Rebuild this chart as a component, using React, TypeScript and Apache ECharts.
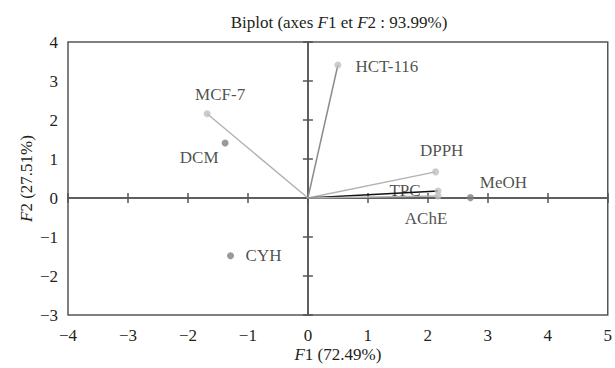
import React, { useEffect, useRef } from "react";
import * as echarts from "echarts";

// ---- Data ----
const xRange = [-4, 5];
const yRange = [-3, 4];

const variableNames = ["HCT-116", "MCF-7", "DPPH", "TPC", "AChE"];
const variableF1 = [0.5, -1.68, 2.13, 2.17, 2.17];
const variableF2 = [3.41, 2.16, 0.67, 0.18, 0.05];

const observationNames = ["DCM", "MeOH", "CYH"];
const observationF1 = [-1.38, 2.71, -1.29];
const observationF2 = [1.41, 0.01, -1.48];

// ---- Styles (kept apart from the data) ----
const FONT = '"Liberation Serif", "DejaVu Serif", serif';
const FS = 17;
const TEXT = "#231f20";
const AXIS = "#555555";

const vectorColor: Record<string, string> = {
  "HCT-116": "#8c8c8c",
  "MCF-7": "#b3b3b3",
  DPPH: "#b3b3b3",
  TPC: "#111111",
  AChE: "#b3b3b3",
};

const labelOffset: Record<string, [number, number]> = {
  "HCT-116": [49, 1],
  "MCF-7": [13, -19],
  DPPH: [6, -21],
  TPC: [-33, 0],
  AChE: [-12, 22],
  DCM: [-26, 14],
  MeOH: [33, -15],
  CYH: [33, 0],
};

const minus = (v: number) => String(v).replace("-", "\u2212");

export default function App() {
  const ref = useRef<HTMLDivElement>(null);

  useEffect(() => {
    if (!ref.current) return;
    const chart = echarts.init(ref.current, undefined, { renderer: "svg" });

    const italic = { fontStyle: "italic", fontFamily: FONT, fontSize: FS, color: TEXT };
    const tickStyle = { color: AXIS, width: 1.5 };

    const xBase = {
      type: "value" as const,
      min: xRange[0],
      max: xRange[1],
      interval: 1,
      splitLine: { show: false },
    };
    const yBase = {
      type: "value" as const,
      min: yRange[0],
      max: yRange[1],
      interval: 1,
      splitLine: { show: false },
    };

    const vectorSeries = variableNames.map((name, i) => ({
      type: "line" as const,
      name,
      data: [
        [0, 0],
        [variableF1[i], variableF2[i]],
      ],
      symbol: "none",
      silent: true,
      z: 3,
      lineStyle: { color: vectorColor[name], width: 1.5 },
      xAxisIndex: 0,
      yAxisIndex: 0,
    }));

    const pointLabel = {
      show: true,
      formatter: "{b}",
      position: "inside" as const,
      fontFamily: FONT,
      fontSize: FS,
      color: TEXT,
    };

    const option: any = {
      animation: false,
      backgroundColor: "#ffffff",
      title: {
        text: "Biplot (axes {i|F}1 et {i|F}2 : 93.99%)",
        left: 339,
        top: 14,
        padding: 0,
        textAlign: "center",
        textStyle: {
          fontFamily: FONT,
          fontSize: FS,
          fontWeight: "normal",
          color: TEXT,
          rich: { i: italic },
        },
      },
      grid: {
        left: 68,
        right: 6,
        top: 42,
        bottom: 53,
        show: true,
        borderColor: AXIS,
        borderWidth: 1.5,
        backgroundColor: "transparent",
      },
      xAxis: [
        {
          ...xBase,
          position: "bottom",
          axisLine: { show: false, onZero: false },
          axisTick: { show: false },
          axisLabel: {
            fontFamily: FONT,
            fontSize: FS,
            color: TEXT,
            margin: 12,
            formatter: (v: number) => minus(v),
          },
          name: "{i|F}1 (72.49%)",
          nameLocation: "middle",
          nameGap: 31,
          nameMoveOverlap: false,
          nameTextStyle: { fontFamily: FONT, fontSize: FS, color: TEXT, rich: { i: italic } },
        },
        {
          ...xBase,
          position: "bottom",
          axisLine: { show: true, onZero: true, onZeroAxisIndex: 0, lineStyle: tickStyle },
          axisTick: { show: true, inside: true, length: 5, lineStyle: tickStyle },
          axisLabel: { show: false },
        },
        {
          ...xBase,
          position: "bottom",
          axisLine: { show: true, onZero: true, onZeroAxisIndex: 0, lineStyle: tickStyle },
          axisTick: { show: true, inside: false, length: 5, lineStyle: tickStyle },
          axisLabel: { show: false },
        },
      ],
      yAxis: [
        {
          ...yBase,
          position: "left",
          axisLine: { show: false, onZero: false },
          axisTick: { show: false },
          axisLabel: {
            fontFamily: FONT,
            fontSize: FS,
            color: TEXT,
            margin: 10,
            formatter: (v: number) => minus(v),
          },
          name: "{i|F}2 (27.51%)",
          nameLocation: "middle",
          nameGap: 33,
          nameMoveOverlap: false,
          nameTextStyle: { fontFamily: FONT, fontSize: FS, color: TEXT, rich: { i: italic } },
        },
        {
          ...yBase,
          position: "left",
          axisLine: { show: true, onZero: true, onZeroAxisIndex: 0, lineStyle: tickStyle },
          axisTick: { show: true, inside: true, length: 5, lineStyle: tickStyle },
          axisLabel: { show: false },
        },
        {
          ...yBase,
          position: "left",
          axisLine: { show: true, onZero: true, onZeroAxisIndex: 0, lineStyle: tickStyle },
          axisTick: { show: true, inside: false, length: 5, lineStyle: tickStyle },
          axisLabel: { show: false },
        },
      ],
      series: [
        ...vectorSeries,
        {
          type: "scatter",
          name: "Variables",
          xAxisIndex: 0,
          yAxisIndex: 0,
          symbolSize: 7,
          z: 4,
          itemStyle: { color: "#bfbfbf" },
          label: pointLabel,
          data: variableNames.map((name, i) => ({
            name,
            value: [variableF1[i], variableF2[i]],
            label: { offset: labelOffset[name] },
          })),
        },
        {
          type: "scatter",
          name: "Observations",
          xAxisIndex: 0,
          yAxisIndex: 0,
          symbolSize: 7,
          z: 4,
          itemStyle: { color: "#7f7f7f" },
          label: pointLabel,
          data: observationNames.map((name, i) => ({
            name,
            value: [observationF1[i], observationF2[i]],
            label: { offset: labelOffset[name] },
          })),
        },
      ],
    };

    chart.setOption(option);
    return () => chart.dispose();
  }, []);

  return (
    <div
      ref={ref}
      style={{ position: "absolute", left: 0, top: 0, width: 615, height: 368, background: "#fff" }}
    />
  );
}
